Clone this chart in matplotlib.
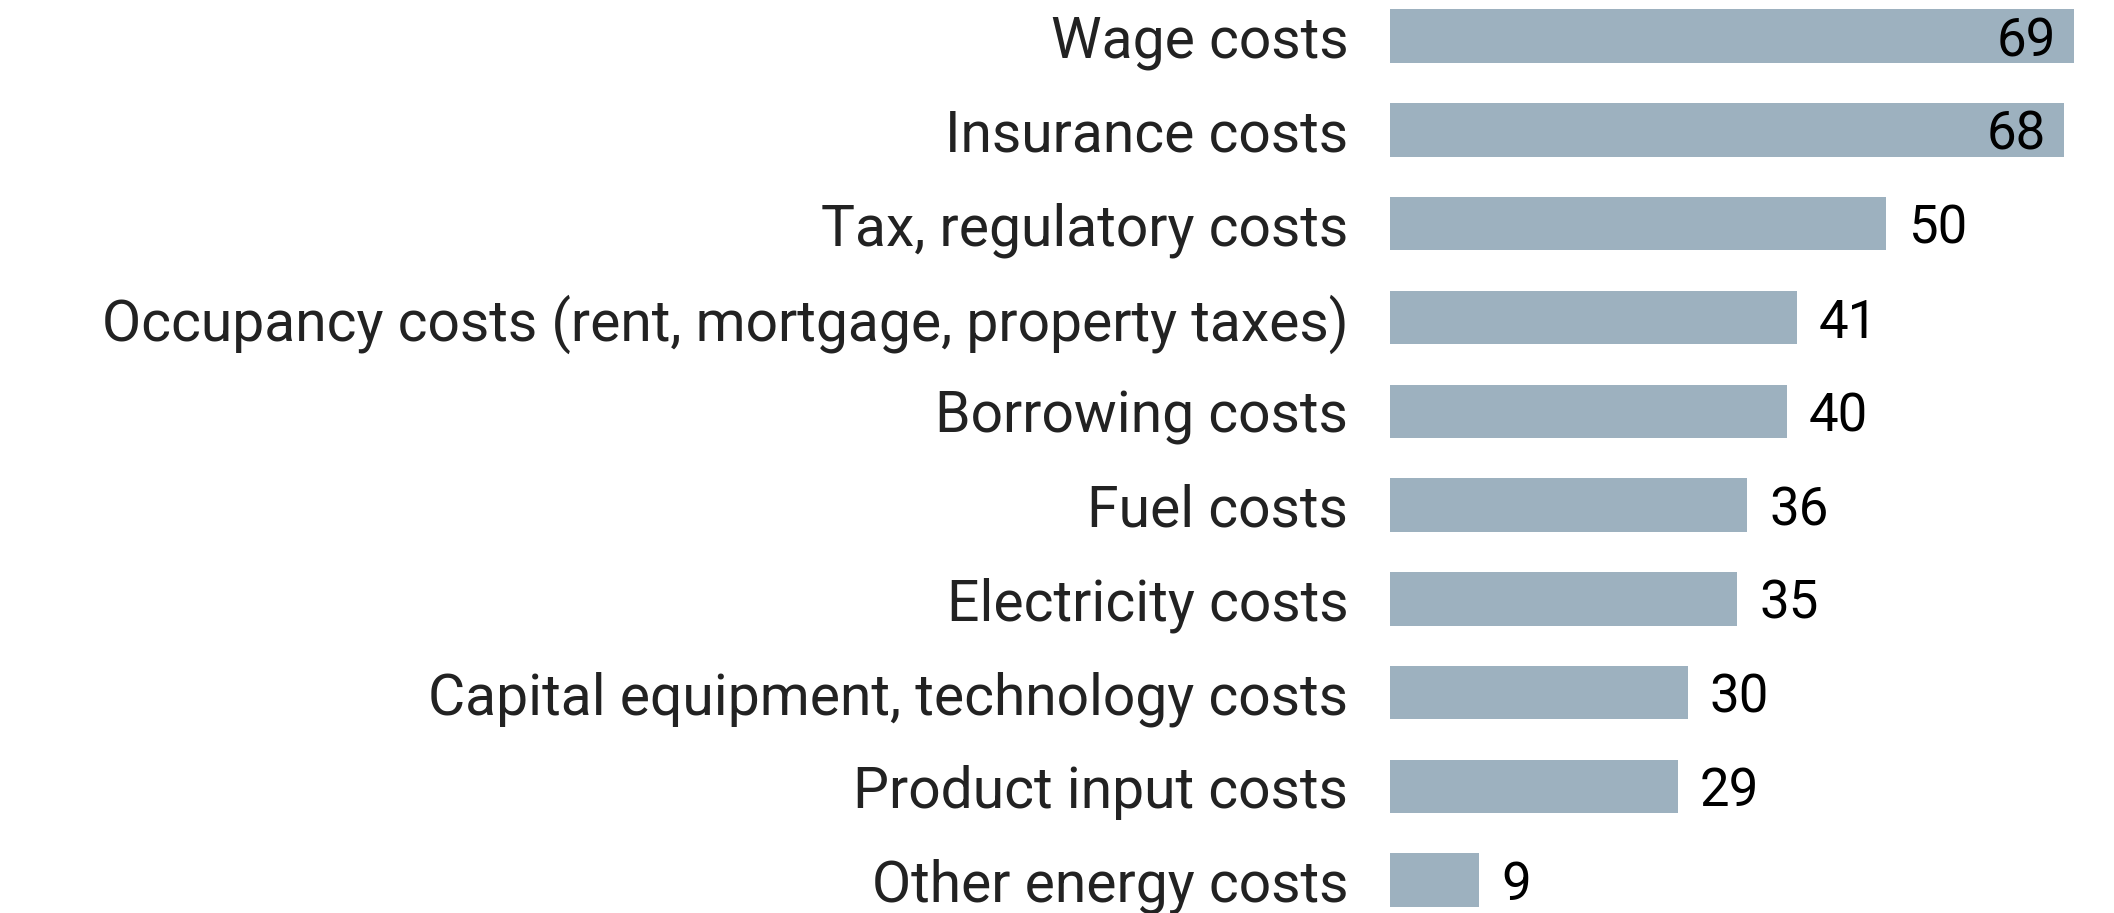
import matplotlib.pyplot as plt

categories = [
    'Wage costs',
    'Insurance costs',
    'Tax, regulatory costs',
    'Occupancy costs (rent, mortgage, property taxes)',
    'Borrowing costs',
    'Fuel costs',
    'Electricity costs',
    'Capital equipment, technology costs',
    'Product input costs',
    'Other energy costs',
]
values = [69, 68, 50, 41, 40, 36, 35, 30, 29, 9]

plt.rcParams['font.family'] = ['Roboto', 'DejaVu Sans']


def main():
    fig = plt.figure(figsize=(21.14, 9.13), dpi=100)
    ax = fig.add_axes([0.6575, 0, 0.3425, 1])
    y = list(range(len(categories)))
    ax.barh(y, values, height=0.57, color='#9db1bf')
    ax.set_ylim(9.35, -0.386)
    ax.set_xlim(0, 73)

    ax.set_yticks(y)
    ax.set_yticklabels(categories, fontsize=41, color='#222222')
    ax.tick_params(axis='y', length=0, pad=30)
    ax.set_xticks([])
    for s in ax.spines.values():
        s.set_visible(False)

    # big values sit inside the bar, the rest just past its end
    for yi, v in zip(y, values):
        if v > 60:
            ax.annotate(str(v), (v, yi), xytext=(-13, 0), textcoords='offset points',
                        ha='right', va='center_baseline', fontsize=38, color='black')
        else:
            ax.annotate(str(v), (v, yi), xytext=(16, 0), textcoords='offset points',
                        ha='left', va='center_baseline', fontsize=38, color='black')

    fig.savefig('out.png', dpi=100)


if __name__ == "__main__":
    main()
